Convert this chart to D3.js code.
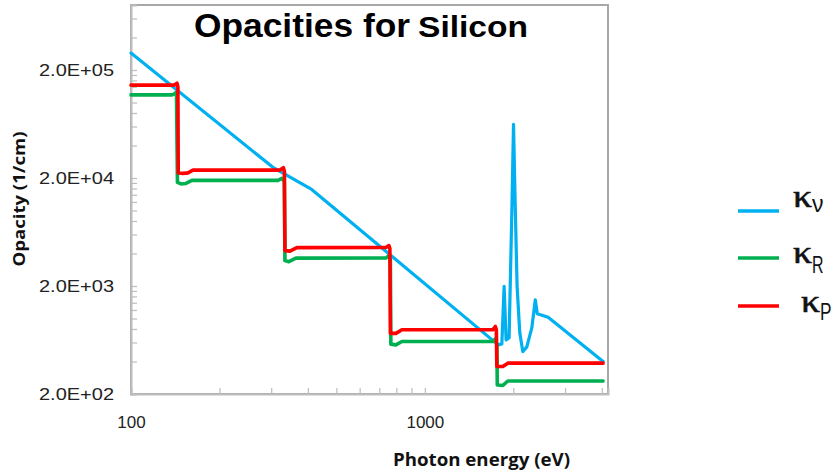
<!DOCTYPE html>
<html>
<head>
<meta charset="utf-8">
<script src="https://cdn.jsdelivr.net/npm/d3@7"></script>
<style>
  html, body { margin: 0; padding: 0; background: #fff; }
  svg { display: block; }
</style>
</head>
<body>
<svg id="chart" width="835" height="475"></svg>
<script>
// ---- data ----
const titleMain = "Opacities for";
const titleSub = "Silicon";
const xAxisTitle = "Photon energy (eV)";
const yAxisTitle = "Opacity (1/cm)";

const yMajorTicks = [200, 2000, 20000, 200000];
const yTickLabels = ["2.0E+02", "2.0E+03", "2.0E+04", "2.0E+05"];
const xMajorTicks = [100, 1000];
const xTickLabels = ["100", "1000"];
const xMinorTicks = [200, 300, 400, 500, 600, 700, 800, 900, 2000, 3000, 4000];

// kappa_nu (blue)
const energyNu = [100, 304, 412, 1776, 1828, 1861, 1890, 1935, 1981, 2003, 2028, 2060, 2104, 2154, 2223, 2312, 2376, 2413, 2627, 4042];
const kappaNu  = [287000, 25100, 15680, 570, 582, 1983, 634, 662, 12660, 62900, 12660, 1983, 737, 494, 546, 820, 1492, 1106, 1026, 399];

// kappa_R (green)
const energyR = [100, 137.9, 140.0, 142.8, 143.9, 148, 153.8, 161.2, 316.2, 326.4, 332.4, 334.1, 344.7, 364, 736.7, 754.4, 763.2, 766.1, 797, 835.3, 1703, 1737, 1758, 1764, 1842, 1916, 4042];
const kappaR  = [117700, 117700, 119500, 124700, 18200, 17630, 17820, 19000, 19000, 19830, 18600, 3436, 3362, 3624, 3630, 3822, 3510, 579, 570, 612, 612, 648, 582, 242, 240, 264, 264];

// kappa_P (red)
const energyP = [100, 140.0, 143.4, 144.4, 144.8, 150.3, 156.2, 162.5, 321.2, 330.1, 332.7, 334.1, 347.4, 366.9, 739.6, 754.4, 760.3, 763.2, 797, 835.3, 1703, 1737, 1751, 1758, 1842, 1916, 4042];
const kappaP  = [144800, 144800, 151000, 140000, 22300, 22060, 22300, 23680, 23680, 24920, 23020, 4254, 4208, 4536, 4560, 4733, 4440, 729, 729, 786, 786, 843, 786, 359, 359, 386, 386];

const seriesNames = ["ν", "R", "P"];
const seriesColors = ["#00b0f0", "#00b050", "#ff0000"];

// ---- layout ----
const svg = d3.select("#chart");
const plotL = 131, plotR = 608, plotT = 5, plotB = 394;

const x = d3.scaleLog().domain([100, 4200]).range([plotL, plotR]);
const y = d3.scaleLog().domain([200, 800000]).range([plotB, plotT]);

// frame
svg.append("rect")
  .attr("x", plotL).attr("y", plotT)
  .attr("width", plotR - plotL).attr("height", plotB - plotT)
  .attr("fill", "none").attr("stroke", "#a8a8a8").attr("stroke-width", 2);

// y minor ticks
const yMinor = [];
yMajorTicks.forEach(d => { for (let k = 2; k <= 9; k++) { if (d * k <= 800000) yMinor.push(d * k); } });

const yAxis = d3.axisLeft(y).tickValues(yMajorTicks.concat(yMinor))
  .tickSize(-6).tickFormat(d => {
    const i = yMajorTicks.indexOf(d);
    return i >= 0 ? yTickLabels[i] : "";
  });
const gy = svg.append("g").attr("transform", `translate(${plotL},0)`).call(yAxis);
gy.select(".domain").attr("stroke", "#bdbdbd").attr("stroke-width", 2);
gy.selectAll(".tick line").attr("stroke", "#bdbdbd").attr("stroke-width", 1.2);
gy.selectAll(".tick text")
  .attr("x", -17).attr("dy", "0.33em")
  .attr("font-family", "Liberation Sans, Arial, sans-serif")
  .attr("font-size", 17).attr("fill", "#222")
  .each(function(d) { if (yMajorTicks.indexOf(d) >= 0) d3.select(this).attr("textLength", 75).attr("lengthAdjust", "spacingAndGlyphs"); });

const xAxis = d3.axisBottom(x).tickValues(xMajorTicks.concat(xMinorTicks))
  .tickSize(-6).tickFormat(d => {
    const i = xMajorTicks.indexOf(d);
    return i >= 0 ? xTickLabels[i] : "";
  });
const gx = svg.append("g").attr("transform", `translate(0,${plotB})`).call(xAxis);
gx.select(".domain").attr("stroke", "#bdbdbd").attr("stroke-width", 2);
gx.selectAll(".tick line").attr("stroke", "#bdbdbd").attr("stroke-width", 1.2);
gx.selectAll(".tick text")
  .attr("y", 22).attr("dy", "0.71em")
  .attr("font-family", "Liberation Sans, Arial, sans-serif")
  .attr("font-size", 17).attr("fill", "#222");

// lines
const line = d3.line().x(d => x(d[0])).y(d => y(d[1]));
const seriesData = [
  d3.zip(energyNu, kappaNu),
  d3.zip(energyR, kappaR),
  d3.zip(energyP, kappaP)
];
const widths = [3.2, 3.6, 3.6];
seriesData.forEach((data, i) => {
  svg.append("path").datum(data)
    .attr("d", line)
    .attr("fill", "none")
    .attr("stroke", seriesColors[i])
    .attr("stroke-width", widths[i])
    .attr("stroke-linejoin", "round")
    .attr("stroke-linecap", "round");
});

// title
svg.append("text").text(titleMain)
  .attr("x", 194).attr("y", 37)
  .attr("font-family", "Liberation Sans, Arial, sans-serif")
  .attr("font-weight", "bold").attr("font-size", 33)
  .attr("textLength", 216).attr("lengthAdjust", "spacingAndGlyphs");
svg.append("text").text(titleSub)
  .attr("x", 418).attr("y", 37)
  .attr("font-family", "Liberation Sans, Arial, sans-serif")
  .attr("font-weight", "bold").attr("font-size", 30)
  .attr("textLength", 110).attr("lengthAdjust", "spacingAndGlyphs");

// axis titles
svg.append("text").text(xAxisTitle)
  .attr("x", 393).attr("y", 466)
  .attr("font-family", "Open Sans, sans-serif")
  .attr("font-weight", "bold").attr("font-size", 17)
  .attr("fill", "#111")
  .attr("textLength", 177).attr("lengthAdjust", "spacingAndGlyphs");
svg.append("text").text(yAxisTitle)
  .attr("transform", "translate(25,199) rotate(-90)")
  .attr("text-anchor", "middle")
  .attr("font-family", "Open Sans, sans-serif")
  .attr("font-weight", "bold").attr("font-size", 16)
  .attr("fill", "#111")
  .attr("textLength", 135).attr("lengthAdjust", "spacingAndGlyphs");

// legend
const legY = [211, 258, 306];
const kappaX = [793, 793, 801];
const kappaBase = [207, 263, 312];
const subBase = [212, 273, 320];
seriesNames.forEach((name, i) => {
  svg.append("line")
    .attr("x1", 738).attr("x2", 779)
    .attr("y1", legY[i]).attr("y2", legY[i])
    .attr("stroke", seriesColors[i]).attr("stroke-width", 3.5);
  svg.append("text").text("κ")
    .attr("x", kappaX[i]).attr("y", kappaBase[i])
    .attr("font-family", "Liberation Serif, serif")
    .attr("font-size", 32).attr("fill", "#111")
    .attr("stroke", "#111").attr("stroke-width", 0.6)
    .attr("textLength", 19).attr("lengthAdjust", "spacingAndGlyphs");
  svg.append("text").text(name)
    .attr("x", kappaX[i] + 19).attr("y", subBase[i])
    .attr("font-family", "Liberation Sans, Arial, sans-serif")
    .attr("font-size", 23).attr("fill", "#111")
    .attr("textLength", 11.5).attr("lengthAdjust", "spacingAndGlyphs");
});
</script>
</body>
</html>
